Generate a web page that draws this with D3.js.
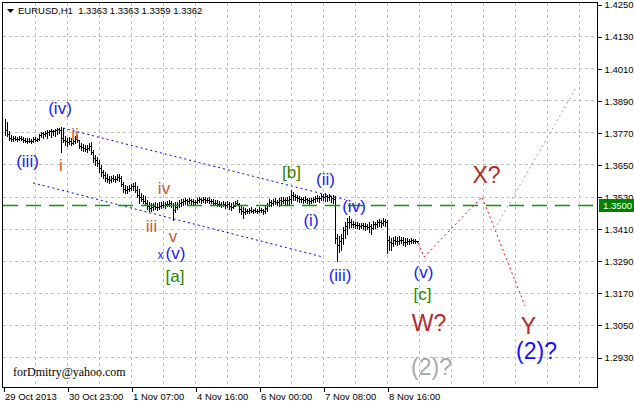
<!DOCTYPE html>
<html><head><meta charset="utf-8">
<script src="https://cdn.jsdelivr.net/npm/d3@7/dist/d3.min.js"></script>
<style>body{margin:0;background:#fff}svg{display:block}</style>
</head><body><svg id="c" width="634" height="406"></svg>
<script>
// ---------- data ----------
const symbol = "EURUSD,H1";
const lastQuote = ["1.3363", "1.3363", "1.3359", "1.3362"];
const firstOpen = 1.3812;
const high = [
1.3820,1.3809,1.3775,1.3760,1.3757,1.3757,1.3753,1.3757,1.3757,1.3753,
1.3749,1.3749,1.3749,1.3745,1.3753,1.3753,1.3749,1.3764,1.3772,1.3772,
1.3775,1.3779,1.3779,1.3783,1.3779,1.3783,1.3786,1.3786,1.3790,1.3786,
1.3757,1.3749,1.3753,1.3749,1.3745,1.3757,1.3760,1.3742,1.3730,1.3727,
1.3723,1.3723,1.3730,1.3734,1.3704,1.3686,1.3678,1.3667,1.3648,1.3629,
1.3622,1.3614,1.3607,1.3607,1.3611,1.3607,1.3614,1.3614,1.3607,1.3585,
1.3573,1.3570,1.3573,1.3577,1.3581,1.3585,1.3570,1.3558,1.3543,1.3536,
1.3532,1.3517,1.3510,1.3506,1.3506,1.3510,1.3506,1.3510,1.3510,1.3514,
1.3510,1.3514,1.3517,1.3514,1.3506,1.3510,1.3510,1.3517,1.3521,1.3521,
1.3525,1.3521,1.3525,1.3521,1.3521,1.3517,1.3525,1.3529,1.3525,1.3529,
1.3529,1.3525,1.3529,1.3521,1.3521,1.3517,1.3517,1.3514,1.3510,1.3514,
1.3510,1.3514,1.3510,1.3506,1.3510,1.3514,1.3517,1.3506,1.3499,1.3491,
1.3487,1.3484,1.3487,1.3491,1.3484,1.3487,1.3484,1.3491,1.3487,1.3484,
1.3495,1.3506,1.3521,1.3517,1.3521,1.3525,1.3517,1.3525,1.3529,1.3529,
1.3525,1.3529,1.3532,1.3555,1.3547,1.3540,1.3536,1.3532,1.3529,1.3529,
1.3532,1.3525,1.3525,1.3525,1.3529,1.3532,1.3536,1.3532,1.3540,1.3540,
1.3543,1.3536,1.3540,1.3532,1.3536,1.3532,1.3390,1.3383,1.3390,1.3416,
1.3435,1.3450,1.3457,1.3446,1.3439,1.3435,1.3435,1.3431,1.3431,1.3431,
1.3431,1.3428,1.3435,1.3428,1.3439,1.3435,1.3443,1.3446,1.3443,1.3450,
1.3446,1.3443,1.3383,1.3375,1.3379,1.3383,1.3379,1.3383,1.3379,1.3379,
1.3375,1.3375,1.3371,1.3375,1.3371,1.3371,1.3363];
const low = [
1.3760,1.3757,1.3742,1.3738,1.3738,1.3742,1.3738,1.3742,1.3742,1.3734,
1.3734,1.3730,1.3734,1.3730,1.3734,1.3738,1.3738,1.3742,1.3753,1.3749,
1.3757,1.3749,1.3760,1.3753,1.3760,1.3757,1.3764,1.3768,1.3697,1.3734,
1.3723,1.3719,1.3727,1.3723,1.3727,1.3730,1.3734,1.3712,1.3704,1.3700,
1.3700,1.3697,1.3704,1.3689,1.3659,1.3648,1.3644,1.3622,1.3607,1.3600,
1.3588,1.3585,1.3581,1.3585,1.3588,1.3585,1.3592,1.3588,1.3570,1.3547,
1.3543,1.3543,1.3551,1.3555,1.3555,1.3547,1.3529,1.3506,1.3514,1.3506,
1.3499,1.3484,1.3476,1.3476,1.3480,1.3484,1.3480,1.3484,1.3487,1.3491,
1.3487,1.3495,1.3495,1.3491,1.3443,1.3472,1.3484,1.3491,1.3495,1.3499,
1.3502,1.3502,1.3506,1.3502,1.3499,1.3499,1.3506,1.3510,1.3506,1.3510,
1.3506,1.3510,1.3506,1.3506,1.3499,1.3499,1.3495,1.3495,1.3491,1.3495,
1.3487,1.3491,1.3484,1.3480,1.3487,1.3495,1.3499,1.3472,1.3465,1.3450,
1.3465,1.3469,1.3469,1.3472,1.3469,1.3472,1.3469,1.3472,1.3472,1.3465,
1.3469,1.3476,1.3495,1.3495,1.3499,1.3502,1.3499,1.3495,1.3502,1.3506,
1.3502,1.3502,1.3499,1.3506,1.3517,1.3517,1.3514,1.3510,1.3510,1.3506,
1.3510,1.3506,1.3502,1.3506,1.3510,1.3510,1.3514,1.3510,1.3517,1.3517,
1.3514,1.3514,1.3517,1.3510,1.3506,1.3357,1.3289,1.3323,1.3330,1.3353,
1.3375,1.3390,1.3413,1.3416,1.3416,1.3413,1.3413,1.3409,1.3413,1.3409,
1.3405,1.3409,1.3398,1.3390,1.3409,1.3413,1.3416,1.3420,1.3416,1.3424,
1.3420,1.3319,1.3330,1.3330,1.3345,1.3353,1.3349,1.3353,1.3357,1.3349,
1.3345,1.3353,1.3353,1.3357,1.3357,1.3357,1.3359];
const close = [
1.3779,1.3764,1.3749,1.3745,1.3749,1.3745,1.3745,1.3749,1.3745,1.3742,
1.3738,1.3738,1.3738,1.3738,1.3745,1.3742,1.3745,1.3760,1.3768,1.3764,
1.3768,1.3772,1.3775,1.3775,1.3775,1.3779,1.3783,1.3779,1.3749,1.3742,
1.3738,1.3734,1.3738,1.3730,1.3738,1.3745,1.3742,1.3719,1.3715,1.3712,
1.3708,1.3712,1.3719,1.3697,1.3674,1.3667,1.3656,1.3637,1.3622,1.3611,
1.3600,1.3596,1.3592,1.3600,1.3596,1.3596,1.3603,1.3600,1.3577,1.3558,
1.3555,1.3558,1.3562,1.3570,1.3570,1.3555,1.3536,1.3529,1.3521,1.3514,
1.3506,1.3495,1.3487,1.3491,1.3495,1.3491,1.3491,1.3495,1.3499,1.3499,
1.3502,1.3502,1.3506,1.3499,1.3480,1.3491,1.3499,1.3506,1.3510,1.3514,
1.3517,1.3514,1.3517,1.3514,1.3510,1.3510,1.3517,1.3521,1.3517,1.3521,
1.3517,1.3517,1.3514,1.3514,1.3506,1.3506,1.3502,1.3502,1.3499,1.3502,
1.3499,1.3502,1.3495,1.3491,1.3495,1.3506,1.3502,1.3484,1.3476,1.3472,
1.3476,1.3476,1.3480,1.3476,1.3480,1.3476,1.3476,1.3480,1.3480,1.3476,
1.3487,1.3499,1.3510,1.3506,1.3514,1.3510,1.3510,1.3517,1.3514,1.3517,
1.3517,1.3517,1.3521,1.3536,1.3532,1.3529,1.3525,1.3521,1.3521,1.3517,
1.3521,1.3517,1.3514,1.3517,1.3521,1.3525,1.3525,1.3525,1.3532,1.3529,
1.3532,1.3529,1.3532,1.3525,1.3521,1.3375,1.3349,1.3364,1.3375,1.3405,
1.3420,1.3435,1.3435,1.3428,1.3428,1.3424,1.3424,1.3420,1.3424,1.3420,
1.3420,1.3416,1.3420,1.3413,1.3428,1.3428,1.3435,1.3435,1.3431,1.3439,
1.3435,1.3368,1.3360,1.3357,1.3368,1.3364,1.3364,1.3368,1.3368,1.3360,
1.3360,1.3364,1.3364,1.3368,1.3364,1.3364,1.3362];

const priceTicks = [1.4250, 1.4130, 1.4010, 1.3890, 1.3770, 1.3650, 1.3530, 1.3410, 1.3290, 1.3170, 1.3050, 1.2930];
const timeLabels = ["29 Oct 2013", "30 Oct 23:00", "1 Nov 07:00", "4 Nov 16:00", "6 Nov 00:00", "7 Nov 08:00", "8 Nov 16:00"];
const timeLabelBar = [-1, 31, 63, 95, 127, 159, 191];
const gridBars = [15, 31, 47, 63, 79, 95, 111, 127, 143, 159, 175, 191, 207, 223, 239, 255, 271, 287];
const levelPrice = 1.3500;
const levelText = "1.3500";

// trend objects: [bar index, price]
const channelUpper = [[29, 1.3786], [170, 1.3519]];
const channelLower = [[14, 1.3581], [159, 1.3304]];
const projectionWXY = [[206.5, 1.3357], [209.5, 1.3304], [238.5, 1.3529], [260, 1.3121]];
const projectionAlt = [[246, 1.3424], [286, 1.3943]];

// wave labels
const waveText  = ["(iii)", "(iv)", "i", "ii", "iv", "iii", "v", "x", "(v)", "[a]", "[b]", "(ii)", "(i)", "(iv)", "(iii)", "(v)", "[c]", "W?", "X?", "Y", "(2)?", "(2)?"];
const waveBar   = [11.25, 27.5, 28, 35, 79.5, 73.25, 84, 77.75, 85.25, 85, 143.25, 160.25, 153, 174.5, 167.5, 209.25, 208.75, 212, 240.75, 261.75, 265.75, 213.25];
const wavePrice = [1.3641, 1.3837, 1.3626, 1.3742, 1.3540, 1.3396, 1.3359, 1.3297, 1.3297, 1.3209, 1.3600, 1.3575, 1.3418, 1.3474, 1.3216, 1.3224, 1.3145, 1.3028, 1.3581, 1.3016, 1.2923, 1.2863];
const waveDegree = ["minute", "minute", "minuette", "minuette", "minuette", "minuette", "minuette", "small", "minute", "minor", "minor", "minute", "minute", "minute", "minute", "minute", "minor", "inter", "inter", "inter", "primary", "primaryAlt"];
const signature = "forDmitry@yahoo.com";

// ---------- layout ----------
const W = 634, H = 406;
const plot = {left: 3, right: 597, top: 3, bottom: 388};
const svg = d3.select("#c");
svg.append("rect").attr("width", W).attr("height", H).attr("fill", "#fff");

const x = d3.scaleLinear().domain([-1, 296]).range([3, 597]);
const y = d3.scaleLinear().domain([1.4250, 1.2930]).range([4, 357]);
const px = v => Math.round(x(v));
const py = v => Math.round(y(v));

const sans = "'Liberation Sans', Arial, sans-serif";

// grid
const grid = svg.append("g").attr("stroke", "#c0c0c0").attr("stroke-dasharray", "3,3").attr("shape-rendering", "crispEdges");
grid.selectAll("line.h").data(priceTicks.slice(1)).join("line")
  .attr("x1", plot.left).attr("x2", plot.right)
  .attr("y1", d => py(d) + 0.5).attr("y2", d => py(d) + 0.5);
grid.selectAll("line.v").data(gridBars).join("line")
  .attr("y1", plot.top).attr("y2", plot.bottom)
  .attr("x1", d => px(d) + 0.5).attr("x2", d => px(d) + 0.5);

// channel lines
const line = d3.line().x(d => x(d[0])).y(d => y(d[1]));
[channelUpper, channelLower].forEach(seg => {
  svg.append("path").attr("d", line(seg)).attr("fill", "none")
    .attr("stroke", "#0000ff").attr("stroke-width", 1).attr("stroke-dasharray", "2,3");
});

// bars
const bars = svg.append("g").attr("stroke", "#000").attr("shape-rendering", "crispEdges");
high.forEach((h, i) => {
  const l = low[i], c = close[i];
  const prev = i ? close[i - 1] : firstOpen;
  const o = Math.min(h, Math.max(l, prev));
  const bx = px(i) + 0.5;
  const yh = py(h), yl = py(l);
  bars.append("line").attr("x1", bx).attr("x2", bx).attr("y1", yh).attr("y2", Math.max(yl, yh + 1) + 0.5);
  bars.append("line").attr("x1", bx - 1).attr("x2", bx).attr("y1", py(o) + 0.5).attr("y2", py(o) + 0.5);
  bars.append("line").attr("x1", bx).attr("x2", bx + 1).attr("y1", py(c) + 0.5).attr("y2", py(c) + 0.5);
});

// horizontal level (drawn over the bars, as in the terminal)
const lvl = py(levelPrice);
svg.append("path")
  .attr("d", `M${plot.left},${lvl + 0.5}H${plot.right}`)
  .attr("fill", "none").attr("stroke", "#00a000").attr("stroke-width", 1.6)
  .attr("stroke-dasharray", "15,8");

// projections
svg.append("path").attr("d", line(projectionAlt)).attr("fill", "none")
  .attr("stroke", "#a0a0a0").attr("stroke-dasharray", "2,3");
svg.append("path").attr("d", line(projectionWXY)).attr("fill", "none")
  .attr("stroke", "#ff0000").attr("stroke-dasharray", "2,3");

// wave labels
const degStyle = {
  minute:     {fill: "#2020f0", size: 17},
  minuette:   {fill: "#cc5a2a", size: 17},
  small:      {fill: "#2020f0", size: 12},
  minor:      {fill: "#2f7f00", size: 17},
  inter:      {fill: "#b22a2a", size: 23},
  primary:    {fill: "#1010ff", size: 23},
  primaryAlt: {fill: "#a9a9a9", size: 23}
};
svg.append("g").selectAll("text").data(waveText).join("text")
  .attr("x", (d, i) => x(waveBar[i]))
  .attr("y", (d, i) => y(wavePrice[i]))
  .attr("text-anchor", "middle")
  .attr("font-family", sans)
  .attr("font-size", (d, i) => degStyle[waveDegree[i]].size)
  .attr("fill", (d, i) => degStyle[waveDegree[i]].fill)
  .text(d => d);

svg.append("text").attr("x", 13).attr("y", 376)
  .attr("font-family", "'Liberation Serif', 'Times New Roman', serif").attr("font-size", 12)
  .attr("fill", "#000").text(signature);

// frame
svg.append("rect").attr("x", plot.left - 0.5).attr("y", plot.top - 0.5)
  .attr("width", plot.right - plot.left + 1).attr("height", plot.bottom - plot.top)
  .attr("fill", "none").attr("stroke", "#000").attr("shape-rendering", "crispEdges");

// right axis
const yAxis = d3.axisRight(y).tickValues(priceTicks).tickSize(4).tickPadding(3).tickFormat(d3.format(".4f"));
const ya = svg.append("g").attr("transform", `translate(${plot.right + 0.5},0.5)`).call(yAxis);
ya.select(".domain").remove();
ya.selectAll("line").attr("stroke", "#000").attr("shape-rendering", "crispEdges");
ya.selectAll("text").attr("font-family", sans).attr("font-size", 9.5).attr("fill", "#000").attr("dy", "0.35em");

// level price tag
svg.append("rect").attr("x", plot.right + 2).attr("y", lvl - 6).attr("width", W - plot.right - 2).attr("height", 13).attr("fill", "#008000");
svg.append("text").attr("x", plot.right + 6).attr("y", lvl + 4).attr("font-family", sans).attr("font-size", 9.5)
  .attr("fill", "#fff").text(levelText);

// bottom axis
const xAxis = d3.axisBottom(x).tickValues(timeLabelBar).tickSize(4).tickFormat((d, i) => timeLabels[i]);
const xa = svg.append("g").attr("transform", `translate(0.5,${plot.bottom - 0.5})`).call(xAxis);
xa.select(".domain").remove();
xa.selectAll("line").attr("stroke", "#000").attr("shape-rendering", "crispEdges");
xa.selectAll("text").attr("font-family", sans).attr("font-size", 9.5).attr("fill", "#000")
  .attr("text-anchor", "start").attr("x", 1).attr("dy", "0.55em");

// title
svg.append("path").attr("d", "M7,9 L14,9 L10.5,13 Z").attr("fill", "#000");
svg.append("text").attr("x", 18).attr("y", 14).attr("font-family", sans).attr("font-size", 9.5)
  .attr("fill", "#000").attr("xml:space", "preserve")
  .text(symbol + "  " + lastQuote.join(" "));
</script></body></html>
